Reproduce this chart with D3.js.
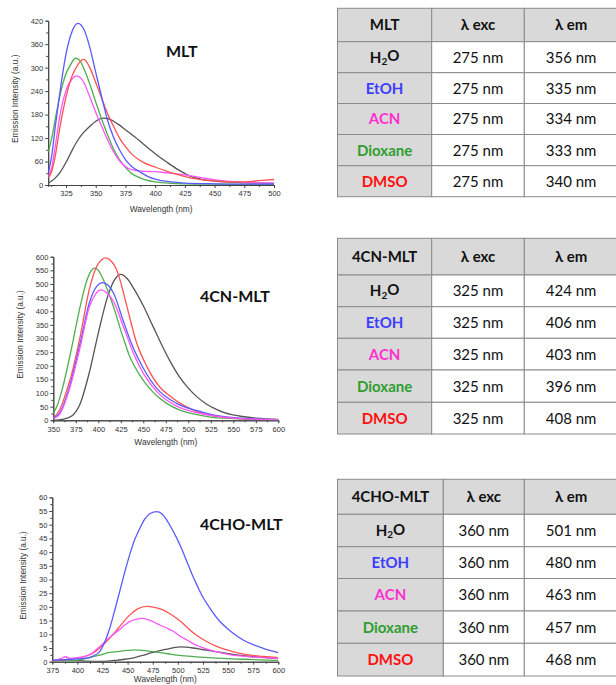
<!DOCTYPE html>
<html>
<head>
<meta charset="utf-8">
<script src="https://cdn.jsdelivr.net/npm/d3@7"></script>
<style>
  body { margin: 0; background: #fff; }
  svg { display: block; }
</style>
</head>
<body>
<div id="fig"></div>
<script>
// ---- values ----
var solvents = ["H2O", "EtOH", "ACN", "Dioxane", "DMSO"];

var mltExc = ["275 nm", "275 nm", "275 nm", "275 nm", "275 nm"];
var mltEm = ["356 nm", "335 nm", "334 nm", "333 nm", "340 nm"];
var cnExc = ["325 nm", "325 nm", "325 nm", "325 nm", "325 nm"];
var cnEm = ["424 nm", "406 nm", "403 nm", "396 nm", "408 nm"];
var choExc = ["360 nm", "360 nm", "360 nm", "360 nm", "360 nm"];
var choEm = ["501 nm", "480 nm", "463 nm", "457 nm", "468 nm"];

var mltXTicks = [325, 350, 375, 400, 425, 450, 475, 500];
var mltYTicks = [0, 60, 120, 180, 240, 300, 360, 420];
var cnXTicks = [350, 375, 400, 425, 450, 475, 500, 525, 550, 575, 600];
var cnYTicks = [0, 50, 100, 150, 200, 250, 300, 350, 400, 450, 500, 550, 600];
var choXTicks = [375, 400, 425, 450, 475, 500, 525, 550, 575, 600];
var choYTicks = [0, 5, 10, 15, 20, 25, 30, 35, 40, 45, 50, 55, 60];

// spectra: [wavelength nm, intensity a.u.]
var mltH2O = [[310,5],[315,15],[320,32],[325,58],[330,88],[335,115],[340,135],[345,150],[350,163],[356,171],[360,170],[365,163],[370,153],[375,141],[380,130],[390,105],[400,80],[410,58],[420,38],[430,22],[440,14],[450,10],[475,6],[500,4]];
var mltEtOH = [[310,30],[313,75],[316,150],[320,240],[325,335],[330,392],[335,413],[340,398],[345,352],[350,288],[355,225],[360,165],[365,122],[370,90],[375,65],[380,48],[387,34],[395,20],[400,15],[410,9],[425,5],[450,3],[475,2],[500,2]];
var mltACN = [[310,22],[313,45],[316,100],[320,180],[325,242],[330,271],[334,279],[340,262],[345,225],[350,186],[355,150],[360,115],[365,85],[370,62],[375,47],[380,39],[390,35],[400,34],[410,31],[425,26],[440,18],[450,13],[475,7],[500,5]];
var mltDiox = [[310,85],[313,120],[316,170],[320,230],[325,285],[328,303],[333,324],[336,320],[340,298],[345,258],[350,212],[355,168],[360,128],[365,92],[370,65],[375,45],[380,30],[390,15],[400,8],[425,3],[450,2],[500,1]];
var mltDMSO = [[310,18],[313,35],[316,75],[320,150],[325,225],[330,278],[335,308],[340,321],[345,300],[350,262],[355,222],[360,182],[365,150],[370,120],[375,98],[381,77],[390,58],[400,46],[410,35],[420,26],[432,17],[440,13],[452,10],[465,8],[475,8],[490,12],[500,14]];

var cnH2O = [[350,0],[360,3],[370,15],[380,62],[390,175],[400,320],[410,450],[418,515],[425,535],[432,520],[440,480],[450,420],[460,350],[470,280],[480,215],[490,160],[500,118],[510,85],[520,60],[530,42],[540,28],[550,20],[560,14],[575,8],[600,3]];
var cnEtOH = [[350,8],[357,26],[368,123],[380,285],[390,430],[398,490],[405,505],[411,495],[417,466],[428,362],[439,264],[450,191],[465,117],[487,62],[509,36],[525,22],[550,10],[575,5],[600,2]];
var cnACN = [[350,6],[357,22],[368,115],[380,270],[390,415],[397,463],[403,478],[410,465],[417,435],[428,343],[439,246],[450,172],[465,105],[487,52],[509,28],[525,18],[550,8],[575,4],[600,2]];
var cnDiox = [[350,25],[355,60],[360,115],[370,260],[380,420],[387,510],[392,548],[396,558],[400,550],[405,520],[410,480],[415,435],[420,385],[425,330],[430,280],[435,233],[440,200],[446,166],[457,117],[465,90],[476,62],[490,38],[502,26],[525,12],[550,6],[575,3],[600,2]];
var cnDMSO = [[350,8],[357,38],[365,110],[370,165],[380,310],[390,480],[398,563],[404,590],[408,596],[414,585],[420,555],[425,505],[432,415],[442,290],[454,197],[468,123],[480,88],[491,62],[509,33],[525,18],[550,8],[575,4],[600,2]];

var choH2O = [[375,0.5],[390,0.5],[400,0.4],[410,0.2],[420,0.1],[430,0.2],[440,0.6],[450,1.0],[458,1.6],[465,2.3],[472,3.1],[480,3.9],[489,4.6],[496,5.1],[502,5.4],[508,5.3],[515,5.0],[522,4.6],[530,4.1],[539,3.6],[550,2.9],[565,2.2],[580,1.7],[600,1.2]];
var choEtOH = [[375,0.5],[390,0.8],[400,1],[410,1.3],[415,2],[422,3.6],[427,7],[432,12],[437,18.5],[442,25.5],[447,32.5],[452,39],[457,44.5],[462,48.5],[467,52],[472,54],[479,54.8],[484,54],[489,51.7],[494,48.5],[499,45],[504,41],[509,36.5],[514,32],[519,28],[525,23.5],[532,19.5],[540,15.5],[549,12.2],[557,9.8],[565,7.9],[575,6.2],[585,4.9],[600,3.3]];
var choACN = [[375,0.3],[383,1],[388,1.8],[393,1.2],[400,1.5],[406,1.8],[415,3.2],[422,5.5],[432,8.8],[442,11.8],[452,14.6],[459,15.5],[464,15.8],[470,15.4],[476,14.5],[482,13.4],[489,12.3],[496,11],[502,9.4],[509,7.9],[515,6.6],[522,5.5],[530,4.5],[539,3.6],[549,2.8],[559,2.2],[575,1.7],[600,1.2]];
var choDiox = [[375,0.2],[390,0.4],[400,0.6],[412,1.5],[422,2.4],[432,3.4],[442,3.8],[450,4.1],[457,4.3],[465,4.1],[472,3.8],[482,3.3],[490,2.9],[499,2.4],[510,2],[522,1.7],[535,1.4],[549,1.1],[565,0.9],[580,0.7],[600,0.5]];
var choDMSO = [[375,0.3],[390,0.8],[400,1.3],[406,1.8],[415,3],[422,4.9],[432,8.5],[442,12.8],[452,17],[460,19.3],[469,20.2],[477,19.8],[485,18.9],[492,17.5],[499,15.8],[506,13.7],[512,11.6],[520,9.3],[529,7.3],[538,5.7],[549,4.3],[560,3.2],[572,2.4],[585,1.9],[600,1.5]];

// ---- styles ----
var lineColor = { H2O: "#555555", EtOH: "#5a5aff", ACN: "#ff55ff", Dioxane: "#4fae4f", DMSO: "#ff5252" };
var textColor = { H2O: "#111111", EtOH: "#3d3dff", ACN: "#ff2fd0", Dioxane: "#2f9e2f", DMSO: "#ff1010" };

var svg = d3.select("#fig").append("svg")
    .attr("width", 616)
    .attr("height", 685);

function drawChart(p) {
    var x = d3.scaleLinear().domain(p.xDomain).range([p.left, p.right]);
    var y = d3.scaleLinear().domain(p.yDomain).range([p.bottom, p.top]);
    var g = svg.append("g");

    // minor ticks sit half way between the labelled ones
    function minors(ticks, dom) {
        var step = ticks[1] - ticks[0], out = [];
        ticks.forEach(function (t) {
            [t - step / 2, t + step / 2].forEach(function (m) {
                if (m >= dom[0] && m <= dom[1] && out.indexOf(m) < 0) out.push(m);
            });
        });
        return out;
    }

    g.append("g")
        .attr("transform", "translate(0," + p.bottom + ")")
        .call(d3.axisBottom(x).tickValues(minors(p.xTicks, p.xDomain)).tickSize(2).tickFormat(""));
    g.append("g")
        .attr("transform", "translate(" + p.left + ",0)")
        .call(d3.axisLeft(y).tickValues(minors(p.yTicks, p.yDomain)).tickSize(2).tickFormat(""));

    g.append("g")
        .attr("transform", "translate(0," + p.bottom + ")")
        .call(d3.axisBottom(x).tickValues(p.xTicks).tickSize(3).tickPadding(3).tickSizeOuter(0));
    g.append("g")
        .attr("transform", "translate(" + p.left + ",0)")
        .call(d3.axisLeft(y).tickValues(p.yTicks).tickSize(3).tickPadding(2).tickSizeOuter(0));

    g.selectAll(".domain").attr("stroke", "#444");
    g.selectAll(".tick line").attr("stroke", "#444");
    g.selectAll(".tick text")
        .attr("fill", "#333")
        .style("font-family", "'Liberation Sans', Arial, sans-serif")
        .style("font-size", "7.5px");

    var clipId = "clip" + p.key;
    svg.append("clipPath").attr("id", clipId)
        .append("rect")
        .attr("x", p.left).attr("y", p.top - 2)
        .attr("width", p.right - p.left).attr("height", p.bottom - p.top + 2);

    var line = d3.line()
        .x(function (d) { return x(d[0]); })
        .y(function (d) { return y(d[1]); })
        .curve(d3.curveMonotoneX);

    var lines = g.append("g").attr("clip-path", "url(#" + clipId + ")");
    p.series.forEach(function (s) {
        lines.append("path")
            .datum(s.values)
            .attr("fill", "none")
            .attr("stroke", lineColor[s.name])
            .attr("stroke-width", 1.3)
            .attr("d", line);
    });

    g.append("text")
        .attr("x", (p.left + p.right) / 2)
        .attr("y", p.bottom + p.xLabelGap)
        .attr("text-anchor", "middle")
        .attr("fill", "#333")
        .style("font-family", "'Liberation Sans', Arial, sans-serif")
        .style("font-size", "8.3px")
        .text("Wavelength (nm)");

    g.append("text")
        .attr("transform", "translate(" + p.yLabelX + "," + ((p.top + p.bottom) / 2 - 4) + ") rotate(-90)")
        .attr("text-anchor", "middle")
        .attr("fill", "#333")
        .style("font-family", "'Liberation Sans', Arial, sans-serif")
        .style("font-size", "8.3px")
        .text("Emission Intensity (a.u.)");

    g.append("text")
        .attr("x", p.titleX)
        .attr("y", p.titleY)
        .attr("fill", "#111")
        .style("font-family", "Lato, 'Open Sans', sans-serif")
        .style("font-weight", "bold")
        .style("font-size", "16px")
        .text(p.title);
}

function drawTable(t) {
    var g = svg.append("g");
    var cols = t.cols, rows = t.rows;
    var header = [t.name, "\u03bb exc", "\u03bb em"];
    var body = solvents.map(function (s, i) { return [s, t.exc[i], t.em[i]]; });
    var cells = [header].concat(body);

    cells.forEach(function (row, r) {
        row.forEach(function (val, c) {
            var x0 = cols[c], x1 = cols[c + 1], y0 = rows[r], y1 = rows[r + 1];
            var grey = r === 0 || c === 0;
            g.append("rect")
                .attr("x", x0).attr("y", y0)
                .attr("width", x1 - x0).attr("height", y1 - y0)
                .attr("fill", grey ? "#d9d9d9" : "#ffffff")
                .attr("stroke", "#8a8a8a")
                .attr("stroke-width", 1);

            var txt = g.append("text")
                .attr("x", (x0 + x1) / 2)
                .attr("y", (y0 + y1) / 2)
                .attr("dy", "0.36em")
                .attr("text-anchor", "middle")
                .attr("fill", (r > 0 && c === 0) ? textColor[val] : "#111")
                .style("font-family", "Lato, 'Open Sans', sans-serif")
                .style("font-weight", grey ? "bold" : "normal")
                .style("font-size", "15px");
            if (val === "H2O") {
                txt.append("tspan").text("H");
                txt.append("tspan").attr("dy", "0.25em").style("font-size", "10px").text("2");
                txt.append("tspan").attr("dy", "-0.25em").text("O");
            } else {
                txt.text(val);
            }
        });
    });
}

drawChart({
    key: "mlt", left: 48.2, right: 274, top: 20.7, bottom: 185,
    xDomain: [310, 500], yDomain: [0, 420], xTicks: mltXTicks, yTicks: mltYTicks,
    title: "MLT", titleX: 166, titleY: 56.5, yLabelX: 18, xLabelGap: 26.5,
    series: [
        { name: "H2O", values: mltH2O }, { name: "Dioxane", values: mltDiox },
        { name: "ACN", values: mltACN }, { name: "DMSO", values: mltDMSO },
        { name: "EtOH", values: mltEtOH }
    ]
});
drawChart({
    key: "cn", left: 53.3, right: 278.3, top: 256.7, bottom: 420.3,
    xDomain: [350, 600], yDomain: [0, 600], xTicks: cnXTicks, yTicks: cnYTicks,
    title: "4CN-MLT", titleX: 200, titleY: 301.5, yLabelX: 23, xLabelGap: 25,
    series: [
        { name: "H2O", values: cnH2O }, { name: "Dioxane", values: cnDiox },
        { name: "DMSO", values: cnDMSO }, { name: "EtOH", values: cnEtOH },
        { name: "ACN", values: cnACN }
    ]
});
drawChart({
    key: "cho", left: 52.3, right: 278.3, top: 497.3, bottom: 661.7,
    xDomain: [375, 600], yDomain: [0, 60], xTicks: choXTicks, yTicks: choYTicks,
    title: "4CHO-MLT", titleX: 200, titleY: 530, yLabelX: 26, xLabelGap: 20.5,
    series: [
        { name: "H2O", values: choH2O }, { name: "Dioxane", values: choDiox },
        { name: "DMSO", values: choDMSO }, { name: "ACN", values: choACN },
        { name: "EtOH", values: choEtOH }
    ]
});

drawTable({ name: "MLT", exc: mltExc, em: mltEm,
    cols: [337.5, 431.7, 524.3, 618], rows: [8.3, 41.7, 72.7, 103.5, 134.5, 165.7, 196.7] });
drawTable({ name: "4CN-MLT", exc: cnExc, em: cnEm,
    cols: [337.5, 431.7, 524.3, 618], rows: [238.3, 275, 306.7, 338.3, 370, 402.3, 434] });
drawTable({ name: "4CHO-MLT", exc: choExc, em: choEm,
    cols: [337.5, 443.3, 524.3, 618], rows: [479.3, 514.3, 546.7, 578.5, 611, 643.3, 676] });
</script>
</body>
</html>
